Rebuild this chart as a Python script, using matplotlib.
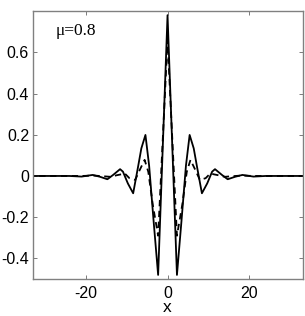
import numpy as np
import matplotlib
matplotlib.use("Agg")
import matplotlib.pyplot as plt

# right half of each curve (x >= 0), mirrored about x = 0
x_solid_half = [0, 2.3, 3.4, 4.5, 5.4, 6.4, 7.2, 8.4, 9.7, 10.9, 11.6, 13.3, 14.7, 16.5, 18.3, 21.0, 24.0, 34.0]
y_solid_half = [0.78, -0.48, -0.22, 0.05, 0.199, 0.134, 0.045, -0.084, -0.036, 0.021, 0.033, 0.005, -0.016, -0.004, 0.005, -0.003, 0.0, 0.0]

x_dash_half = [0, 2.3, 3.6, 4.7, 5.6, 6.8, 7.9, 9.3, 10.5, 11.3, 12.3, 14.0, 16.0, 18.0, 21.0, 34.0]
y_dash_half = [0.66, -0.29, -0.14, 0.02, 0.078, 0.029, -0.019, -0.011, 0.013, 0.008, 0.004, -0.004, -0.001, 0.002, 0.0, 0.0]

x_ticks = [-20, 0, 20]
x_ticklabels = ["-20", "0", "20"]
y_ticks = [-0.4, -0.2, 0, 0.2, 0.4, 0.6]
y_ticklabels = ["-0.4", "-0.2", "0", "0.2", "0.4", "0.6"]

def mirror(xs, ys):
    xs = np.array(xs)
    ys = np.array(ys)
    return np.concatenate([-xs[:0:-1], xs]), np.concatenate([ys[:0:-1], ys])

xs, ys = mirror(x_solid_half, y_solid_half)
xd, yd = mirror(x_dash_half, y_dash_half)

plt.rcParams['font.family'] = ['Liberation Sans', 'DejaVu Sans']

fig = plt.figure(figsize=(3.05, 3.16), dpi=100)
ax = fig.add_axes([0.1066, 0.117, 0.8854, 0.848])

ax.plot(xs, ys, color="black", lw=1.3)
ax.plot(xd, yd, color="black", lw=1.3, linestyle=(0, (3.5, 2.5)))

ax.set_xlim(-33, 33)
ax.set_ylim(-0.5, 0.8)
ax.set_xticks(x_ticks)
ax.set_xticklabels(x_ticklabels)
ax.set_yticks(y_ticks)
ax.set_yticklabels(y_ticklabels)
ax.tick_params(direction="in", top=True, right=True, labelsize=11.5,
               length=3, width=0.6, color="#666666")
ax.tick_params(axis="x", pad=5)
ax.tick_params(axis="y", pad=2.5)
for s in ax.spines.values():
    s.set_color("#808080")
    s.set_linewidth(1.0)

ax.set_xlabel("x", fontsize=12.5, va="baseline")
ax.xaxis.set_label_coords(0.5, -0.123)
ax.text(-27.3, 0.684, "\u03bc=0.8", fontsize=12.5, family="Liberation Serif")

fig.savefig("out.png", dpi=100)
